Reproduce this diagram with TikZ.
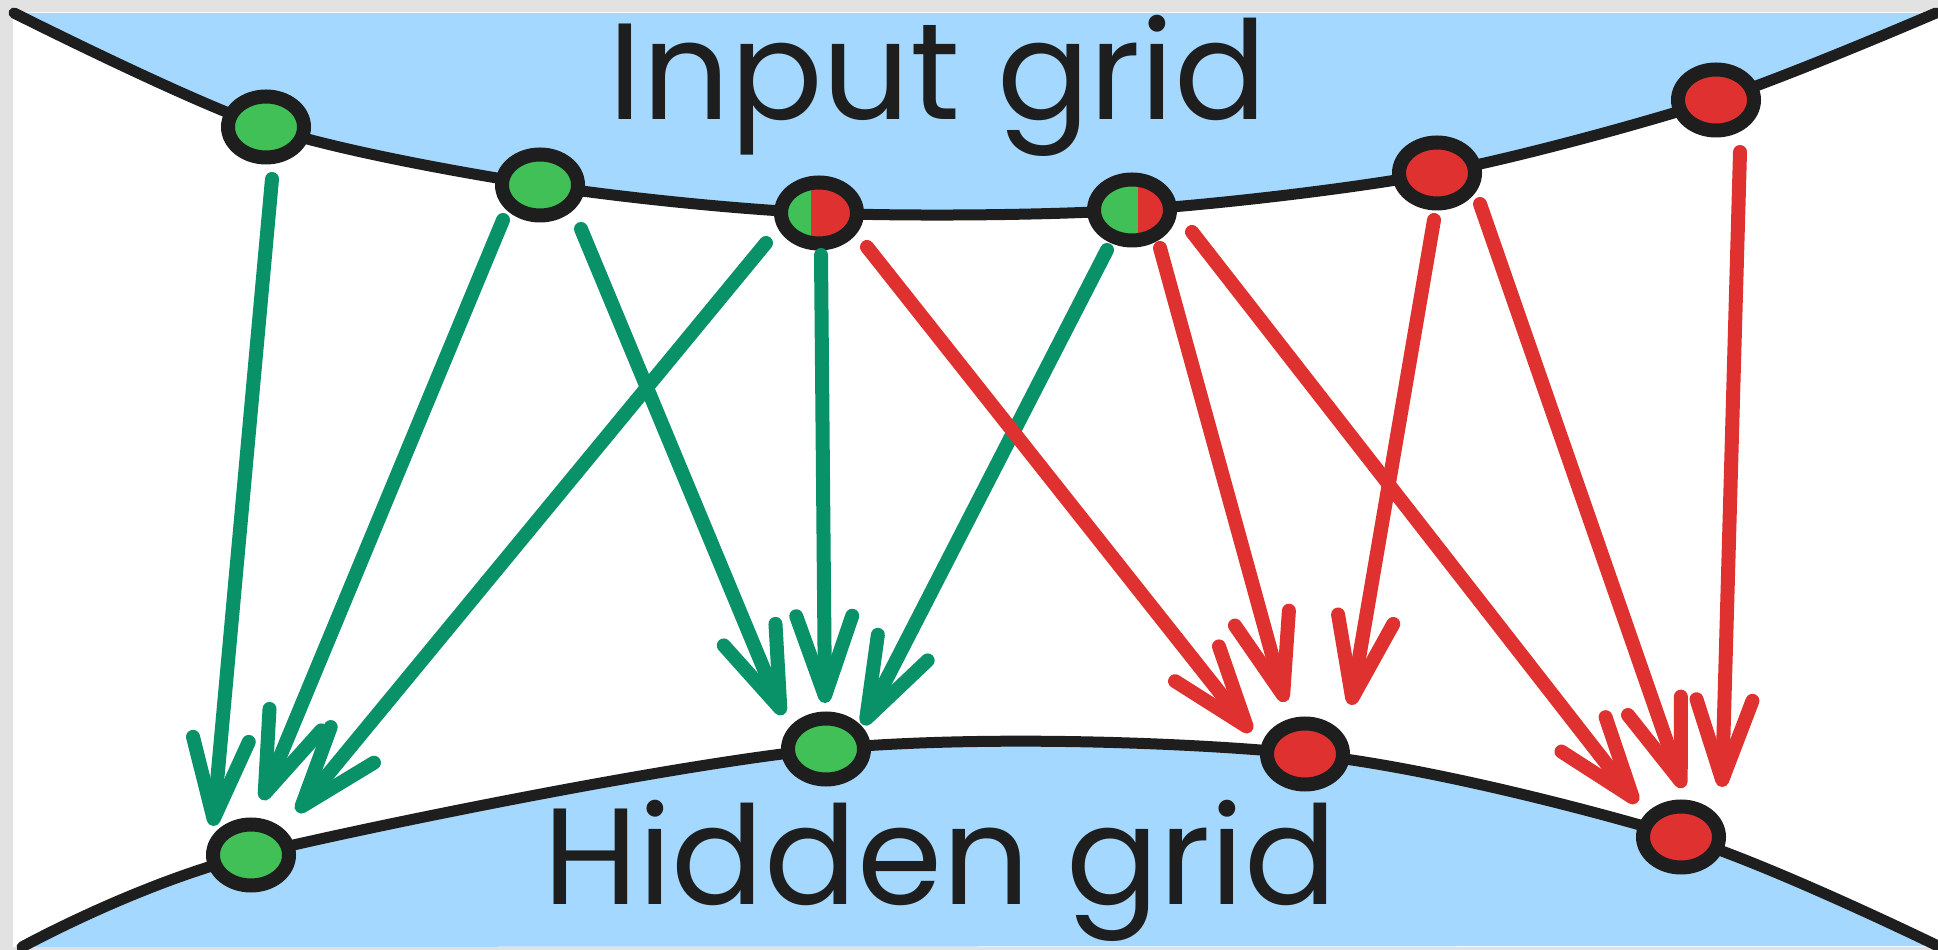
\documentclass[tikz,border=0pt]{standalone}
\usepackage{fontspec}
\setmainfont{Poppins}
\usetikzlibrary{calc,arrows.meta,shapes.geometric}
\definecolor{Sky}{HTML}{A5D8FF}
\definecolor{Ink}{HTML}{1E1E1E}
\definecolor{Leaf}{HTML}{40C057}
\definecolor{Teal}{HTML}{099268}
\definecolor{Crimson}{HTML}{E03131}
\definecolor{Frame}{HTML}{E2E2E2}

\begin{document}
\begin{tikzpicture}[x=0.1mm,y=-0.1mm,
  cell/.style={ellipse,draw=Ink,line width=1.4mm,minimum width=7.6mm,minimum height=6.1mm,inner sep=0pt},
  incell/.style={cell,fill=Leaf},
  outcell/.style={cell,fill=Crimson},
  splitcell/.style={cell,fill=Crimson,path picture={\fill[Leaf] (path picture bounding box.south west) rectangle ([xshift=#1]path picture bounding box.north);}},
  rim/.style={draw=Ink,line width=1.1mm,line cap=round},
  greenarrow/.style={draw=Teal,line width=1.4mm,line cap=round,-{Straight Barb[length=8mm,width=5.6mm,round]}},
  redarrow/.style={greenarrow,draw=Crimson},
  gridlabel/.style={font=\fontsize{39}{42}\selectfont,text=Ink,anchor=base,inner sep=0pt}
]
\useasboundingbox (0,0) rectangle (1938,950);
\fill[Frame] (0,0) rectangle (1938,950);
\fill[white] (13,12) rectangle (1938,947);
% corners of the two grids
\coordinate (TL) at (14,13); \coordinate (TR) at (1936,13);
\coordinate (BL) at (22,947); \coordinate (BR) at (1938,946);
% input cells
\coordinate (t1) at (266,127); \coordinate (t2) at (540,185); \coordinate (t3) at (819,213);
\coordinate (t4) at (1132,210); \coordinate (t5) at (1437,173); \coordinate (t6) at (1716,100);
% hidden cells
\coordinate (h1) at (251,855); \coordinate (h2) at (826,749); \coordinate (h3) at (1305,754); \coordinate (h4) at (1681,837);
\fill[Sky] plot[smooth] coordinates {(TL) (t1) (t2) (t3) (t4) (t5) (t6) (TR)} -- cycle;
\fill[Sky] plot[smooth] coordinates {(BL) (h1) (h2) (h3) (h4) (BR)} -- cycle;
\node[gridlabel] (inlabel) at (938,120) {Input grid};
\node[gridlabel] (hidlabel) at (940,905) {Hidden grid};
\draw[rim] plot[smooth] coordinates {(TL) (t1) (t2) (t3) (t4) (t5) (t6) (TR)};
\draw[rim] plot[smooth] coordinates {(BL) (h1) (h2) (h3) (h4) (BR)};
\node[incell] (T1) at (t1) {}; \node[incell] (T2) at (t2) {};
\node[splitcell=-0.8mm] (T3) at (t3) {}; \node[splitcell=0.6mm] (T4) at (t4) {};
\node[outcell] (T5) at (t5) {}; \node[outcell] (T6) at (t6) {};
\node[incell] (H1) at (h1) {}; \node[incell] (H2) at (h2) {};
\node[outcell] (H3) at (h3) {}; \node[outcell] (H4) at (h4) {};
% green links
\draw[greenarrow] ($(T1)+(6,52)$) -- ($(H1)+(-38,-29)$);
\draw[greenarrow] ($(T2)+(-37,35)$) -- ($(H1)+(11,-55)$);
\draw[greenarrow] ($(T3)+(-53,30)$) -- ($(H1)+(46,-43)$);
\draw[greenarrow] ($(T2)+(41,44)$) -- ($(H2)+(-43,-34)$);
\draw[greenarrow] ($(T3)+(2,42)$) -- ($(H2)+(-1,-46)$);
\draw[greenarrow] ($(T4)+(-25,40)$) -- ($(H2)+(37,-24)$);
% red links
\draw[redarrow] ($(T3)+(48,34)$) -- ($(H3)+(-54,-22)$);
\draw[redarrow] ($(T4)+(28,38)$) -- ($(H3)+(-20,-52)$);
\draw[redarrow] ($(T5)+(-3,47)$) -- ($(H3)+(46,-49)$);
\draw[redarrow] ($(T4)+(60,22)$) -- ($(H4)+(-44,-34)$);
\draw[redarrow] ($(T5)+(43,31)$) -- ($(H4)+(2,-49)$);
\draw[redarrow] ($(T6)+(24,52)$) -- ($(H4)+(41,-50)$);
\end{tikzpicture}
\end{document}
